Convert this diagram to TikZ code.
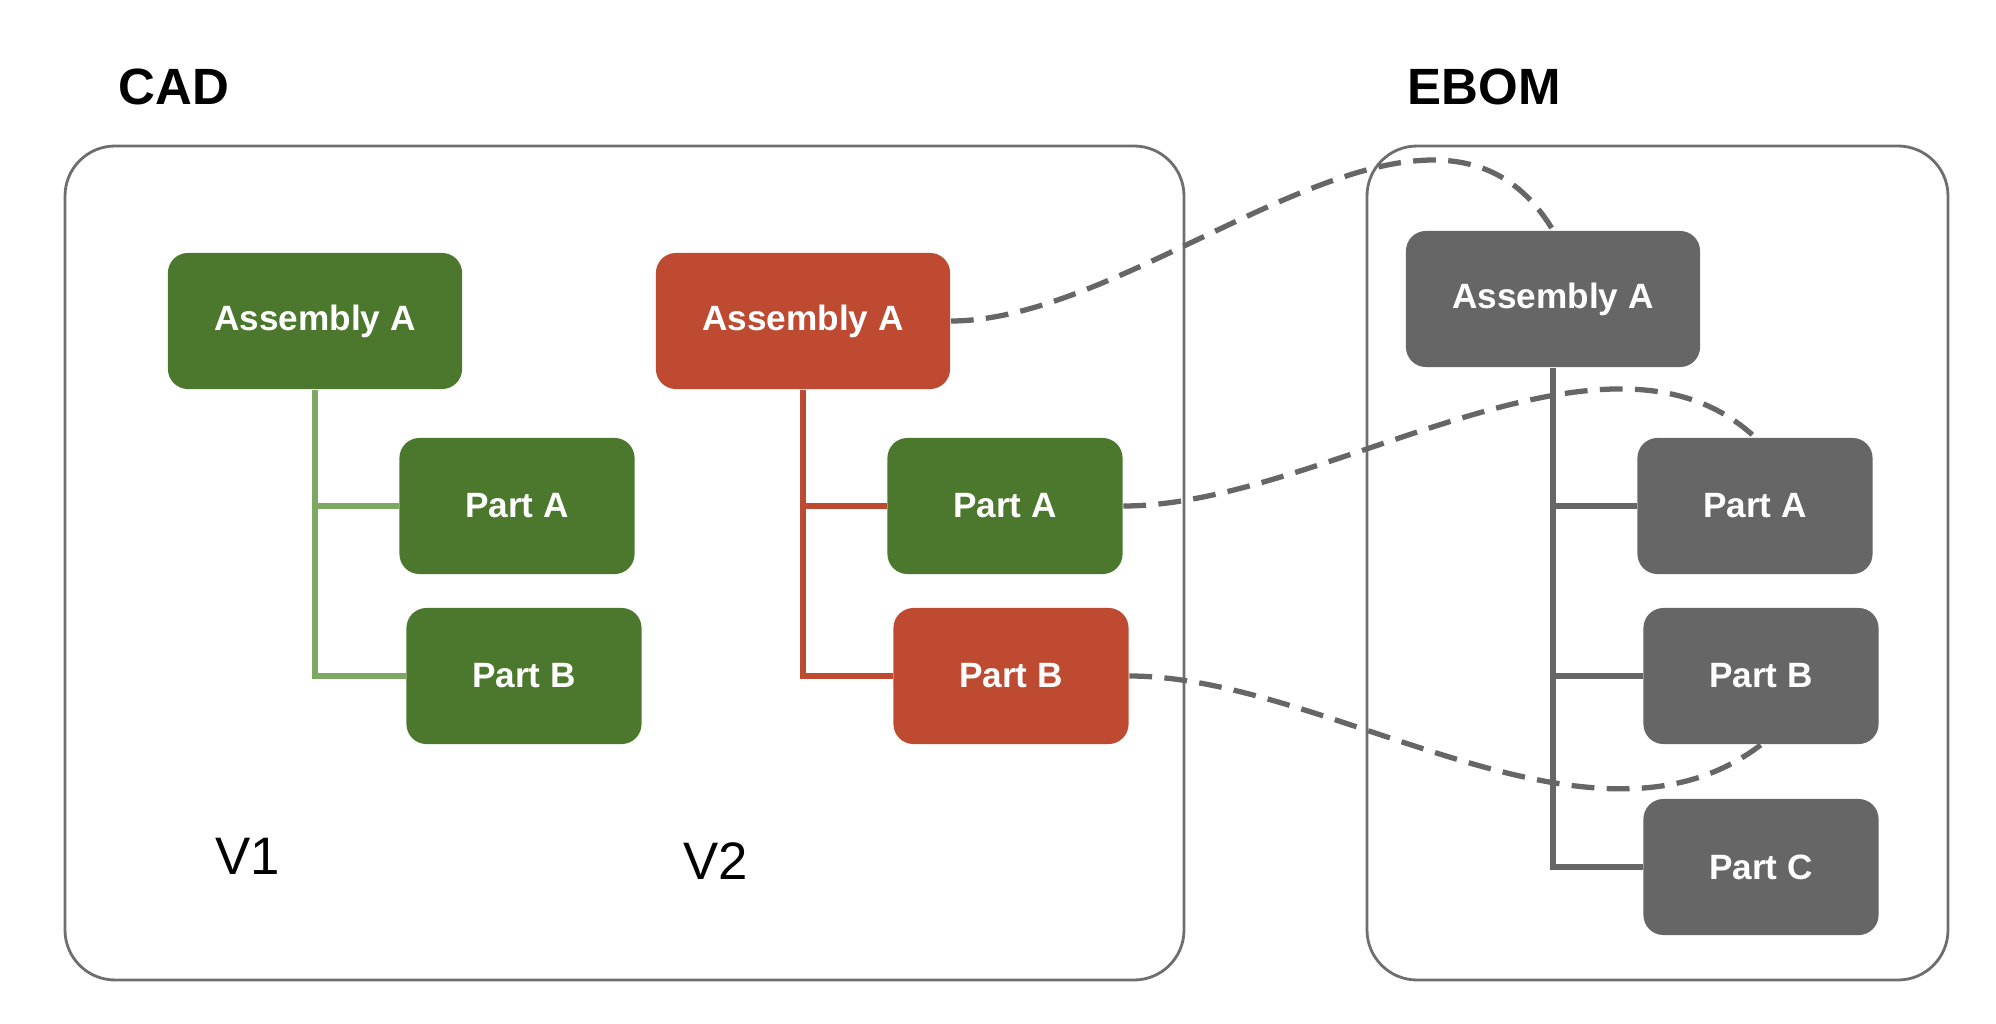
\documentclass[tikz,border=0pt]{standalone}
\usepackage{fontspec}
\setmainfont{Liberation Sans}
\usepackage{xcolor}
\usetikzlibrary{calc,positioning}

\definecolor{cadgreen}{HTML}{4B782C}
\definecolor{cadred}{HTML}{BE4A31}
\definecolor{bomgrey}{HTML}{666666}
\definecolor{linkgreen}{HTML}{7EA862}
\definecolor{framegrey}{HTML}{6E6E6E}

\tikzset{
  item/.style={rounded corners=0.2cm, text=white, inner sep=0pt,
    font=\bfseries\fontsize{10}{12}\selectfont, minimum height=1.36cm},
  asm/.style={item, minimum width=2.94cm},
  part/.style={item, minimum width=2.35cm},
  frame/.style={draw=framegrey, line width=0.8pt, rounded corners=0.5cm},
  tree/.style={line width=1.5pt},
  link/.style={bomgrey, line width=1.5pt, dash pattern=on 6.5pt off 3.5pt},
  title/.style={font=\bfseries\fontsize{14.5}{17}\selectfont},
  version/.style={font=\fontsize{15}{18}\selectfont},
}

\begin{document}
\begin{tikzpicture}[x=0.01cm,y=-0.01cm]
  \useasboundingbox (0,0) rectangle (1996,1024);

  % frames and titles
  \draw[frame] (65,146) rectangle (1184,980);
  \draw[frame] (1367,146) rectangle (1948,980);
  \node[title] (cadtitle) at (174,87) {CAD};
  \node[title] (ebomtitle) at (1484,87) {EBOM};

  % V1
  \node[asm,fill=cadgreen] (v1asm) at (315,321) {Assembly A};
  \node[part,fill=cadgreen] (v1parta) at (517,506) {Part A};
  \node[part,fill=cadgreen] (v1partb) at (524,676) {Part B};
  \draw[tree,linkgreen] (v1asm.south) |- (v1partb.west);
  \draw[tree,linkgreen] (v1asm.south |- v1parta.west) -- (v1parta.west);
  \node[version] (v1label) at (248,856) {V1};

  % V2
  \node[asm,fill=cadred] (v2asm) at (803,321) {Assembly A};
  \node[part,fill=cadgreen] (v2parta) at (1005,506) {Part A};
  \node[part,fill=cadred] (v2partb) at (1011,676) {Part B};
  \draw[tree,cadred] (v2asm.south) |- (v2partb.west);
  \draw[tree,cadred] (v2asm.south |- v2parta.west) -- (v2parta.west);
  \node[version] (v2label) at (716,861) {V2};

  % EBOM
  \node[asm,fill=bomgrey] (bomasm) at (1553,299) {Assembly A};
  \foreach \n/\x/\y/\t in {a/1755/506/A, b/1761/676/B, c/1761/867/C}
    \node[part,fill=bomgrey] (bompart\n) at (\x,\y) {Part \t};
  \draw[tree,bomgrey,line width=1.7pt] (bomasm.south) |- (bompartc.west);
  \foreach \n in {a,b}
    \draw[tree,bomgrey,line width=1.7pt] (bomasm.south |- bompart\n.west) -- (bompart\n.west);

  % links CAD -> EBOM
  \draw[link] (v2asm.east) .. controls ($(v2asm.east)+(200,0)$)
    and ($(bomasm.north)+(-120,-200)$) .. (bomasm.north);
  \draw[link] (v2parta.east) .. controls ($(v2parta.east)+(200,0)$)
    and ($(bomparta.north)+(-150,-140)$) .. (bomparta.north);
  \draw[link] (v2partb.east) .. controls ($(v2partb.east)+(200,0)$)
    and ($(bompartb.south)+(-170,130)$) .. (bompartb.south);
\end{tikzpicture}
\end{document}
